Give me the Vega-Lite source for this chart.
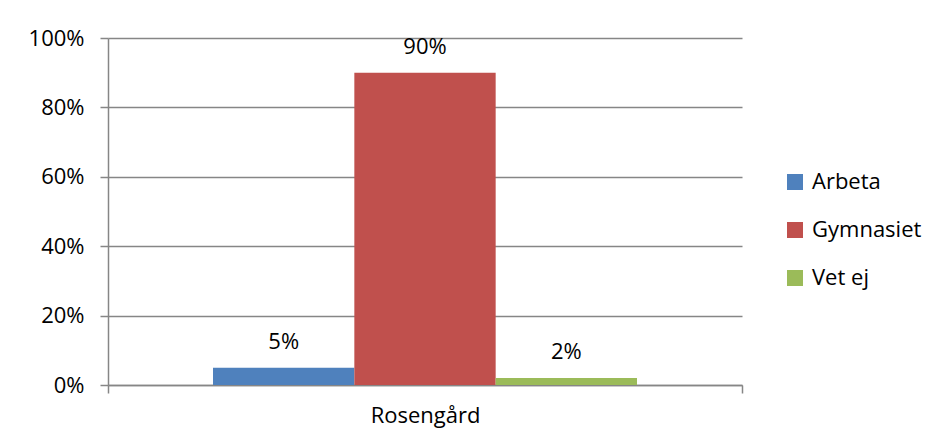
{
  "$schema": "https://vega.github.io/schema/vega-lite/v6.json",
  "autosize": "none",
  "width": 634,
  "height": 347,
  "padding": {"left": 108, "top": 38, "right": 197, "bottom": 63},
  "background": "white",
  "data": {
    "values": [
      {"omrade": "Rosengård", "svar": "Arbeta", "andel": 0.05},
      {"omrade": "Rosengård", "svar": "Gymnasiet", "andel": 0.90},
      {"omrade": "Rosengård", "svar": "Vet ej", "andel": 0.02}
    ]
  },
  "encoding": {
    "x": {
      "field": "omrade",
      "type": "nominal",
      "scale": {"paddingInner": 0, "paddingOuter": 0},
      "axis": {
        "title": null,
        "labelAngle": 0,
        "tickBand": "extent",
        "tickSize": 8,
        "tickWidth": 1.5,
        "tickColor": "#868686",
        "domainColor": "#868686",
        "domainWidth": 1.5,
        "labelPadding": 12,
        "labelFont": "Open Sans",
        "labelFontSize": 22,
        "labelColor": "#000000",
        "grid": false
      }
    },
    "xOffset": {
      "field": "svar",
      "type": "nominal",
      "scale": {"domain": ["Arbeta", "Gymnasiet", "Vet ej"], "paddingInner": 0, "paddingOuter": 0.743}
    },
    "y": {
      "field": "andel",
      "type": "quantitative",
      "scale": {"domain": [0, 1], "nice": false},
      "axis": {
        "title": null,
        "format": ".0%",
        "values": [0, 0.2, 0.4, 0.6, 0.8, 1],
        "tickSize": 8,
        "tickWidth": 1.5,
        "tickColor": "#868686",
        "domainColor": "#868686",
        "domainWidth": 1.5,
        "grid": true,
        "gridColor": "#868686",
        "gridWidth": 1.5,
        "labelPadding": 16,
        "labelFont": "Open Sans",
        "labelFontSize": 22,
        "labelColor": "#000000"
      }
    }
  },
  "layer": [
    {
      "mark": {"type": "bar"},
      "encoding": {
        "color": {
          "field": "svar",
          "type": "nominal",
          "scale": {"domain": ["Arbeta", "Gymnasiet", "Vet ej"], "range": ["#4F81BD", "#C0504D", "#9BBB59"]},
          "legend": {
            "title": null,
            "orient": "none",
            "legendX": 676,
            "legendY": 133,
            "symbolType": "square",
            "symbolSize": 256,
            "symbolStrokeWidth": 0,
            "symbolOpacity": 1,
            "labelFont": "Open Sans",
            "labelFontSize": 22,
            "labelColor": "#000000",
            "labelOffset": 6,
            "rowPadding": 26
          }
        }
      }
    },
    {
      "mark": {"type": "text", "dy": -26, "font": "Open Sans", "fontSize": 22, "color": "#000000"},
      "encoding": {
        "text": {"field": "andel", "type": "quantitative", "format": ".0%"}
      }
    }
  ],
  "config": {
    "view": {"stroke": null}
  }
}
